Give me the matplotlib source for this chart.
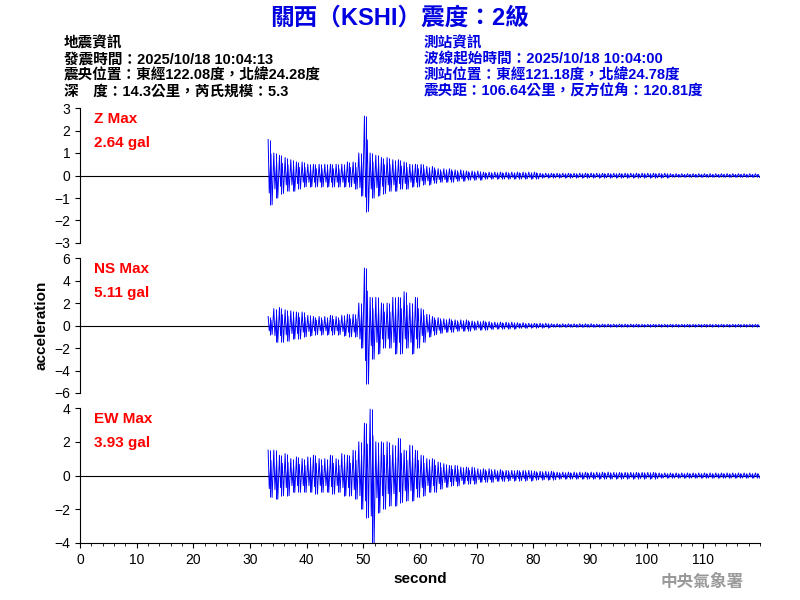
import numpy as np
import matplotlib
matplotlib.use("Agg")
from matplotlib import pyplot as plt

plt.rcParams['font.family'] = ['Liberation Sans', 'Noto Sans CJK TC', 'DejaVu Sans']

# per-second peak readings (max, min) from 33 s to 119 s
t0 = 33
z_max = [1.6, 1.0, 0.9, 0.8, 0.7, 0.6, 0.6, 0.5, 0.5, 0.5,
         0.5, 0.5, 0.5, 0.5, 0.6, 0.6, 1.0, 2.64, 1.0, 0.9,
         0.8, 0.8, 0.7, 0.7, 0.6, 0.5, 0.5, 0.5, 0.4, 0.4,
         0.3, 0.3, 0.3, 0.25, 0.25, 0.2, 0.2, 0.2, 0.15, 0.15,
         0.15, 0.15, 0.15, 0.15, 0.15, 0.15, 0.15, 0.15, 0.1, 0.1,
         0.1, 0.1, 0.1, 0.1, 0.1, 0.1, 0.1, 0.1, 0.1, 0.1,
         0.1, 0.1, 0.1, 0.1, 0.1, 0.1, 0.1, 0.1, 0.1, 0.1,
         0.1, 0.08, 0.08, 0.08, 0.08, 0.08, 0.08, 0.08, 0.08, 0.08,
         0.08, 0.08, 0.08, 0.08, 0.08, 0.08, 0.08]
z_min = [-1.3, -1.0, -0.8, -0.7, -0.7, -0.6, -0.5, -0.5, -0.5, -0.5,
         -0.5, -0.5, -0.5, -0.5, -0.5, -0.6, -0.9, -1.6, -1.0, -0.9,
         -0.8, -0.7, -0.7, -0.6, -0.6, -0.5, -0.5, -0.4, -0.4, -0.35,
         -0.3, -0.3, -0.3, -0.25, -0.25, -0.2, -0.2, -0.2, -0.15, -0.15,
         -0.15, -0.15, -0.15, -0.15, -0.15, -0.15, -0.15, -0.15, -0.1, -0.1,
         -0.1, -0.1, -0.1, -0.1, -0.1, -0.1, -0.1, -0.1, -0.1, -0.1,
         -0.1, -0.1, -0.1, -0.1, -0.1, -0.1, -0.1, -0.1, -0.1, -0.1,
         -0.1, -0.08, -0.08, -0.08, -0.08, -0.08, -0.08, -0.08, -0.08, -0.08,
         -0.08, -0.08, -0.08, -0.08, -0.08, -0.08, -0.08]
ns_max = [0.8, 1.5, 1.6, 1.4, 1.3, 1.2, 1.2, 0.9, 0.8, 0.8,
          0.8, 0.9, 0.8, 0.9, 1.0, 1.0, 2.0, 5.11, 2.5, 2.5,
          2.0, 2.0, 2.5, 2.5, 3.0, 2.0, 2.5, 1.5, 1.0, 0.8,
          0.7, 0.6, 0.6, 0.5, 0.5, 0.5, 0.4, 0.4, 0.4, 0.35,
          0.3, 0.3, 0.3, 0.3, 0.25, 0.25, 0.2, 0.2, 0.2, 0.2,
          0.15, 0.15, 0.15, 0.15, 0.15, 0.15, 0.15, 0.15, 0.12, 0.12,
          0.12, 0.12, 0.12, 0.12, 0.12, 0.12, 0.1, 0.1, 0.1, 0.1,
          0.1, 0.1, 0.1, 0.1, 0.1, 0.1, 0.1, 0.1, 0.1, 0.1,
          0.1, 0.1, 0.1, 0.1, 0.1, 0.1, 0.1]
ns_min = [-0.8, -1.5, -1.5, -1.4, -1.2, -1.2, -1.0, -0.9, -0.8, -0.8,
          -0.8, -0.8, -0.8, -0.9, -1.0, -1.0, -2.0, -5.2, -3.0, -2.5,
          -2.0, -2.0, -2.5, -2.5, -2.0, -2.5, -2.0, -1.5, -1.0, -0.8,
          -0.7, -0.6, -0.6, -0.5, -0.5, -0.5, -0.4, -0.4, -0.4, -0.35,
          -0.3, -0.3, -0.3, -0.3, -0.25, -0.25, -0.2, -0.2, -0.2, -0.2,
          -0.15, -0.15, -0.15, -0.15, -0.15, -0.15, -0.15, -0.15, -0.12, -0.12,
          -0.12, -0.12, -0.12, -0.12, -0.12, -0.12, -0.1, -0.1, -0.1, -0.1,
          -0.1, -0.1, -0.1, -0.1, -0.1, -0.1, -0.1, -0.1, -0.1, -0.1,
          -0.1, -0.1, -0.1, -0.1, -0.1, -0.1, -0.1]
ew_max = [1.5, 1.5, 1.2, 1.3, 1.0, 1.1, 1.0, 1.1, 1.2, 1.0,
          1.0, 1.2, 1.0, 1.3, 1.2, 1.5, 2.0, 3.1, 3.93, 2.0,
          2.0, 2.0, 1.8, 2.2, 1.5, 1.8, 1.5, 1.2, 1.0, 1.0,
          0.8, 0.7, 0.6, 0.6, 0.5, 0.5, 0.5, 0.4, 0.4, 0.4,
          0.35, 0.35, 0.3, 0.3, 0.3, 0.3, 0.3, 0.25, 0.25, 0.25,
          0.25, 0.2, 0.2, 0.2, 0.2, 0.2, 0.2, 0.2, 0.2, 0.2,
          0.2, 0.18, 0.18, 0.18, 0.18, 0.18, 0.18, 0.18, 0.18, 0.15,
          0.15, 0.15, 0.15, 0.15, 0.15, 0.15, 0.15, 0.15, 0.15, 0.15,
          0.15, 0.15, 0.15, 0.15, 0.15, 0.15, 0.15]
ew_min = [-1.3, -1.4, -1.2, -1.2, -1.0, -1.0, -1.0, -1.0, -1.1, -1.0,
          -1.0, -1.1, -1.0, -1.2, -1.2, -1.4, -2.0, -2.5, -4.0, -2.2,
          -2.0, -1.8, -1.8, -1.6, -1.5, -1.5, -1.3, -1.2, -1.0, -1.0,
          -0.8, -0.7, -0.6, -0.6, -0.5, -0.5, -0.5, -0.4, -0.4, -0.4,
          -0.35, -0.35, -0.3, -0.3, -0.3, -0.3, -0.3, -0.25, -0.25, -0.25,
          -0.25, -0.2, -0.2, -0.2, -0.2, -0.2, -0.2, -0.2, -0.2, -0.2,
          -0.2, -0.18, -0.18, -0.18, -0.18, -0.18, -0.18, -0.18, -0.18, -0.15,
          -0.15, -0.15, -0.15, -0.15, -0.15, -0.15, -0.15, -0.15, -0.15, -0.15,
          -0.15, -0.15, -0.15, -0.15, -0.15, -0.15, -0.15]

channels = [("Z Max", "2.64 gal", z_max, z_min, 3, [-3, -2, -1, 0, 1, 2, 3]),
            ("NS Max", "5.11 gal", ns_max, ns_min, 6, [-6, -4, -2, 0, 2, 4, 6]),
            ("EW Max", "3.93 gal", ew_max, ew_min, 4, [-4, -2, 0, 2, 4])]

fig = plt.figure(figsize=(8, 6), dpi=100)
fig.text(0.5, 0.97, "關西（KSHI）震度：2級", color="#0000e0", fontsize=17,
         fontweight="bold", ha="center", va="center")
left_txt = ["地震資訊", "發震時間：2025/10/18 10:04:13",
            "震央位置：東經122.08度，北緯24.28度", "深　度：14.3公里，芮氏規模：5.3"]
right_txt = ["測站資訊", "波線起始時間：2025/10/18 10:04:00",
             "測站位置：東經121.18度，北緯24.78度", "震央距：106.64公里，反方位角：120.81度"]
for i, (a, b) in enumerate(zip(left_txt, right_txt)):
    y = 0.928 - i * 0.027
    fig.text(0.08, y, a, fontsize=10.5, va="center", fontweight="bold")
    fig.text(0.53, y, b, fontsize=10.5, va="center", color="#0000e0", fontweight="bold")

tops = [0.82, 0.57, 0.32]
for k, (name, val, mx, mn, lim, ticks) in enumerate(channels):
    ax = fig.add_axes([0.1, tops[k] - 0.225, 0.85, 0.225])
    t = []
    y = []
    for j in range(len(mx)):
        t += [t0 + j + 0.2, t0 + j + 0.4, t0 + j + 0.7, t0 + j + 0.9]
        y += [mx[j], mn[j] * 0.6, mx[j] * 0.6, mn[j]]
    ax.axhline(0, color="black", lw=0.8)
    ax.plot(t, y, color="#0000ff", lw=0.7)
    ax.vlines(np.arange(len(mx)) + t0 + 0.5, mn, mx, color="#0000ff", lw=0.7)
    ax.set_xlim(0, 120)
    ax.set_ylim(-lim, lim)
    ax.set_yticks(ticks)
    for s in ["top", "right"]:
        ax.spines[s].set_visible(False)
    ax.tick_params(labelsize=10)
    if k < 2:
        ax.spines["bottom"].set_visible(False)
        ax.set_xticks([])
    else:
        ax.set_xticks(range(0, 120, 10))
        ax.set_xticks(range(0, 121, 2), minor=True)
        ax.set_xlabel("second", fontsize=11, fontweight="bold")
    ax.text(0.02, 0.92, name, transform=ax.transAxes, color="red", fontsize=11,
            va="center", fontweight="bold")
    ax.text(0.02, 0.74, val, transform=ax.transAxes, color="red", fontsize=11,
            va="center", fontweight="bold")
    if k == 1:
        ax.set_ylabel("acceleration", fontsize=11, fontweight="bold")

fig.text(0.93, 0.03, "中央氣象署", color="#999999", fontsize=12, ha="right",
         va="center", fontweight="bold")
fig.savefig("out.png")
